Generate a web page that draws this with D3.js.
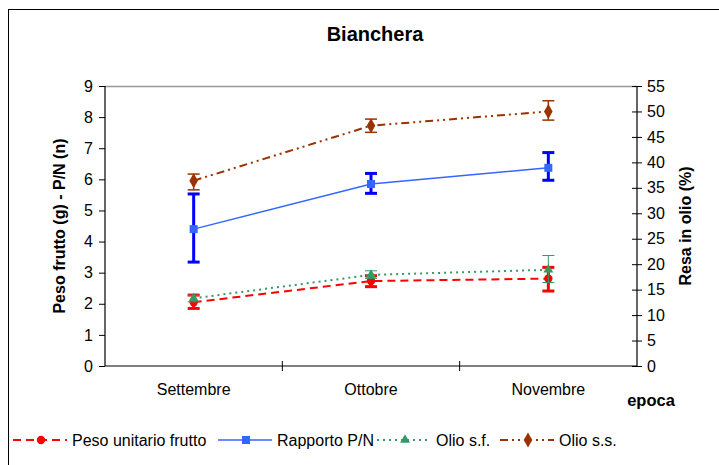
<!DOCTYPE html>
<html>
<head>
<meta charset="utf-8">
<script src="https://cdn.jsdelivr.net/npm/d3@7"></script>
<style>
  body { margin: 0; background: #fff; }
  svg { display: block; font-family: "Liberation Sans", Arial, sans-serif; }
</style>
</head>
<body>
<svg id="chart"></svg>
<script>
const width = 719, height = 465;
const margin = { top: 86, right: 82, bottom: 99, left: 105 };
const plotWidth = width - margin.left - margin.right;
const plotHeight = height - margin.top - margin.bottom;

// Data
const categories = ["Settembre", "Ottobre", "Novembre"];
const leftTicks = [0, 1, 2, 3, 4, 5, 6, 7, 8, 9];
const rightTicks = [0, 5, 10, 15, 20, 25, 30, 35, 40, 45, 50, 55];

const pesoValues = [2.05, 2.73, 2.81];
const pesoLow = [1.85, 2.55, 2.41];
const pesoHigh = [2.28, 2.90, 3.17];

const rapportoValues = [4.40, 5.85, 6.37];
const rapportoLow = [3.34, 5.55, 5.97];
const rapportoHigh = [5.53, 6.19, 6.86];

const olioSfValues = [13.3, 17.9, 18.9];
const olioSfLow = [12.6, 17.2, 16.4];
const olioSfHigh = [13.9, 18.7, 21.7];

const olioSsValues = [36.4, 47.2, 50.0];
const olioSsLow = [34.6, 45.9, 48.3];
const olioSsHigh = [37.7, 48.5, 52.1];

const series = [
  { name: "Peso unitario frutto", axis: "left", values: pesoValues, low: pesoLow, high: pesoHigh,
    color: "#ff0000", errColor: "#ff0000", errWidth: 3, width: 2, dash: "8,5", marker: "circle" },
  { name: "Rapporto P/N", axis: "left", values: rapportoValues, low: rapportoLow, high: rapportoHigh,
    color: "#3366ff", errColor: "#0000ff", errWidth: 3, width: 1.5, dash: null, marker: "square" },
  { name: "Olio s.f.", axis: "right", values: olioSfValues, low: olioSfLow, high: olioSfHigh,
    color: "#339966", errColor: "#339966", errWidth: 1, width: 2, dash: "2,4", marker: "triangle" },
  { name: "Olio s.s.", axis: "right", values: olioSsValues, low: olioSsLow, high: olioSsHigh,
    color: "#993300", errColor: "#993300", errWidth: 1.5, width: 2, dash: "8,4,2,4,2,4", marker: "diamond" }
];

const svg = d3.select("#chart")
  .attr("width", width)
  .attr("height", height);

// outer frame
svg.append("rect")
  .attr("x", 8.5).attr("y", 9.5)
  .attr("width", width + 10).attr("height", height + 10)
  .attr("fill", "none").attr("stroke", "#000").attr("stroke-width", 1);

const g = svg.append("g")
  .attr("transform", `translate(${margin.left},${margin.top})`);

// Scales
const x = d3.scaleBand().domain(categories).range([0, plotWidth]);
const yLeft = d3.scaleLinear().domain([0, 9]).range([plotHeight, 0]);
const yRight = d3.scaleLinear().domain([0, 55]).range([plotHeight, 0]);

// plot area top border (gray)
g.append("line")
  .attr("x1", 0).attr("x2", plotWidth)
  .attr("y1", 0.5).attr("y2", 0.5)
  .attr("stroke", "#999").attr("stroke-width", 1.5);

// Axes
const leftAxis = g.append("g")
  .call(d3.axisLeft(yLeft).tickValues(leftTicks).tickSize(6).tickPadding(6));
const rightAxis = g.append("g")
  .attr("transform", `translate(${plotWidth},0)`)
  .call(d3.axisRight(yRight).tickValues(rightTicks).tickSize(5).tickPadding(5));
rightAxis.selectAll(".tick line").attr("x1", -5);

const bottomAxis = g.append("g")
  .attr("transform", `translate(0,${plotHeight})`)
  .call(d3.axisBottom(x).tickSize(0).tickPadding(18));

// category separator ticks crossing the axis
bottomAxis.selectAll(".sep")
  .data(categories.slice(1))
  .enter().append("line")
  .attr("x1", d => x(d)).attr("x2", d => x(d))
  .attr("y1", -5).attr("y2", 5)
  .attr("stroke", "#000");

[leftAxis, rightAxis, bottomAxis].forEach(a => {
  a.selectAll("path.domain").attr("stroke", "#000").attr("stroke-width", 1.2);
  a.selectAll("text").attr("font-size", 16).attr("fill", "#000")
    .attr("font-family", "'Liberation Sans', Arial, sans-serif");
});
leftAxis.select("path.domain").attr("d", `M0,0V${plotHeight}`);
rightAxis.select("path.domain").attr("d", `M0,0V${plotHeight}`);
bottomAxis.select("path.domain").attr("d", `M0,0H${plotWidth}`);

// Marker shapes
const symbolFor = {
  circle: d3.symbol().type(d3.symbolCircle).size(55),
  square: d3.symbol().type(d3.symbolSquare).size(64),
  triangle: d3.symbol().type(d3.symbolTriangle).size(42),
  diamond: d3.symbol().type(d3.symbolDiamond).size(64)
};

const cx = d => x(d) + x.bandwidth() / 2;

series.forEach(s => {
  const y = s.axis === "left" ? yLeft : yRight;
  const pts = categories.map((c, i) => ({ c, v: s.values[i], lo: s.low[i], hi: s.high[i] }));

  const line = d3.line().x(d => cx(d.c)).y(d => y(d.v));
  g.append("path")
    .datum(pts)
    .attr("d", line)
    .attr("fill", "none")
    .attr("stroke", s.color)
    .attr("stroke-width", s.width)
    .attr("stroke-dasharray", s.dash);

  // error bars
  const eb = g.append("g").attr("stroke", s.errColor).attr("stroke-width", s.errWidth);
  pts.forEach(d => {
    eb.append("line").attr("x1", cx(d.c)).attr("x2", cx(d.c))
      .attr("y1", y(d.lo)).attr("y2", y(d.hi));
    eb.append("line").attr("x1", cx(d.c) - 6).attr("x2", cx(d.c) + 6)
      .attr("y1", y(d.lo)).attr("y2", y(d.lo));
    eb.append("line").attr("x1", cx(d.c) - 6).attr("x2", cx(d.c) + 6)
      .attr("y1", y(d.hi)).attr("y2", y(d.hi));
  });

  g.append("g").selectAll("path")
    .data(pts)
    .enter().append("path")
    .attr("d", symbolFor[s.marker])
    .attr("transform", d => `translate(${cx(d.c)},${y(d.v)})`)
    .attr("fill", s.color);
});

// Title and axis labels
svg.append("text")
  .attr("x", 375).attr("y", 41)
  .attr("text-anchor", "middle")
  .attr("font-size", 20).attr("font-weight", "bold")
  .text("Bianchera");

svg.append("text")
  .attr("transform", `translate(65,${margin.top + plotHeight / 2}) rotate(-90)`)
  .attr("text-anchor", "middle")
  .attr("font-size", 16).attr("font-weight", "bold")
  .text("Peso frutto (g) - P/N (n)");

svg.append("text")
  .attr("transform", `translate(691,${margin.top + plotHeight / 2}) rotate(-90)`)
  .attr("text-anchor", "middle")
  .attr("font-size", 16).attr("font-weight", "bold")
  .text("Resa in olio (%)");

svg.append("text")
  .attr("x", 651).attr("y", 406)
  .attr("text-anchor", "middle")
  .attr("font-size", 16.5).attr("font-weight", "bold")
  .text("epoca");

// Legend
const legendX = [13, 218, 377, 500];
const legend = svg.append("g").attr("transform", "translate(0,440)");
series.forEach((s, i) => {
  const lg = legend.append("g").attr("transform", `translate(${legendX[i]},0)`);
  lg.append("line")
    .attr("x1", 0).attr("x2", 54)
    .attr("stroke", s.color).attr("stroke-width", s.width)
    .attr("stroke-dasharray", s.dash);
  lg.append("path")
    .attr("d", symbolFor[s.marker])
    .attr("transform", "translate(28,0)")
    .attr("fill", s.color);
  lg.append("text")
    .attr("x", 59).attr("y", 6)
    .attr("font-size", 16)
    .text(s.name);
});
</script>
</body>
</html>
